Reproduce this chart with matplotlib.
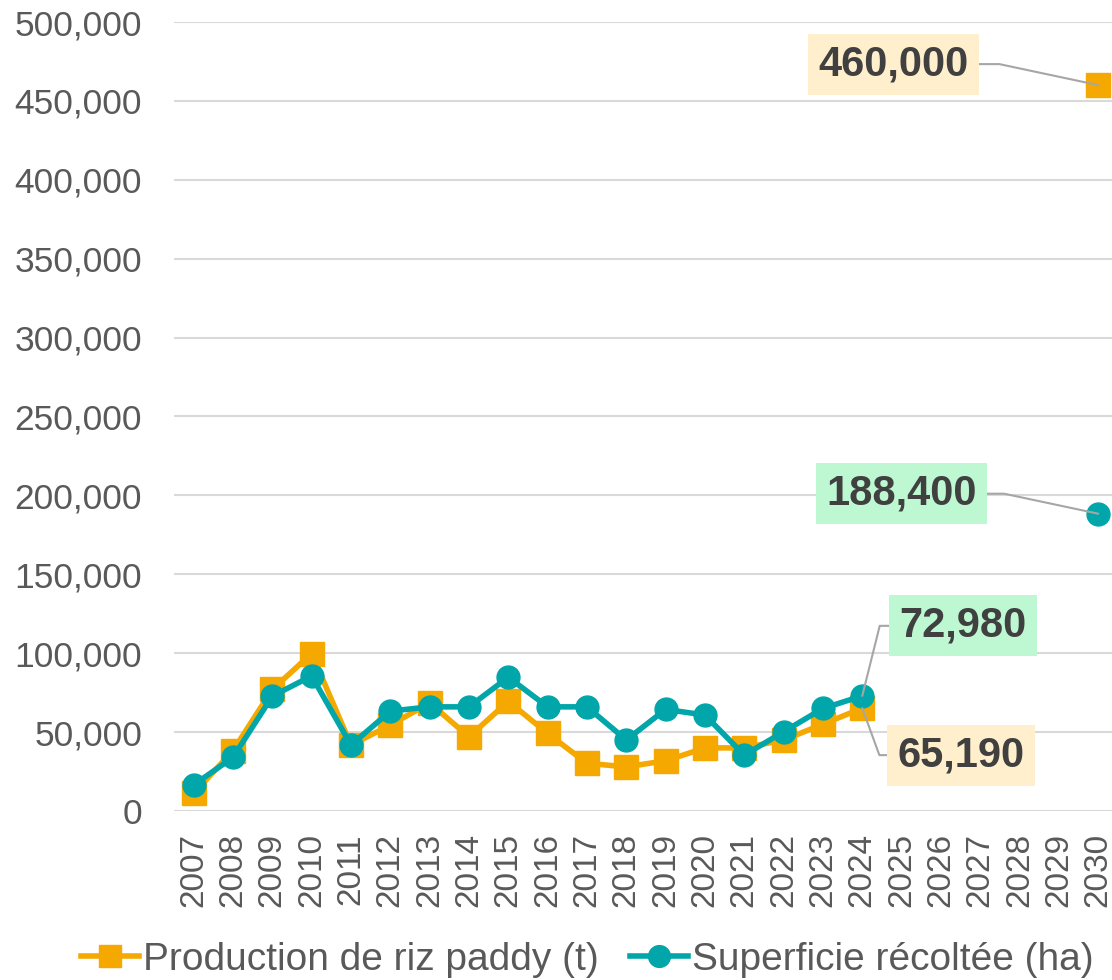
import matplotlib
matplotlib.use("Agg")
import matplotlib.pyplot as plt
import matplotlib.ticker as ticker
import numpy as np

years = [str(y) for y in range(2007, 2031)]
nan = np.nan
production = [11200, 38200, 77000, 99800, 41800, 54400, 68500, 47000, 69500, 49200,
              30200, 28000, 31800, 40000, 40000, 45000, 55000, 65190,
              nan, nan, nan, nan, nan, 460000]
superficie = [16500, 34000, 72800, 85600, 41800, 63300, 66000, 66000, 84800, 66000,
              66000, 45000, 64400, 60800, 35400, 50200, 65000, 72980,
              nan, nan, nan, nan, nan, 188400]

ORANGE = "#F5A800"
TEAL = "#00A6A9"
TXT = "#595959"

plt.rcParams['font.family'] = ['Liberation Sans', 'DejaVu Sans']

fig = plt.figure(figsize=(11.12, 9.8), dpi=100)
ax = fig.add_axes([174 / 1112, 1 - 811 / 980, (1112 - 174) / 1112, (811 - 22) / 980])

x = np.arange(len(years))
ax.plot(x, production, color=ORANGE, lw=4, marker='s', ms=17, mec=ORANGE,
        label="Production de riz paddy (t)", zorder=3)
ax.plot(x, superficie, color=TEAL, lw=4, marker='o', ms=16.5, mec=TEAL,
        label="Superficie récoltée (ha)", zorder=4)

ax.set_ylim(0, 500000)
ax.set_xlim(-0.5, len(years) - 0.5 - 0.15)
ax.yaxis.set_major_locator(ticker.MultipleLocator(50000))
ax.yaxis.set_major_formatter(ticker.FuncFormatter(lambda v, p: f"{int(v):,}"))
ax.set_xticks(x)
ax.set_xticklabels(years, rotation=90)
ax.tick_params(axis='y', length=0, pad=23, labelsize=25.5, labelcolor=TXT)
ax.tick_params(axis='x', length=0, pad=16, labelsize=24, labelcolor=TXT)
ax.grid(axis='y', color="#d9d9d9", lw=1.5)
ax.set_axisbelow(True)
for s in ax.spines.values():
    s.set_visible(False)

def label(idx, val, text, dx, dy, face, angB):
    ax.annotate(text, xy=(idx, val), xytext=(dx, dy), textcoords='offset pixels',
                ha='center', va='center', fontsize=30, fontweight='bold', color="#404040",
                bbox=dict(boxstyle='square,pad=0.25', fc=face, ec='none'),
                arrowprops=dict(arrowstyle='-', color="#a6a6a6", lw=1.5, shrinkA=0, shrinkB=0,
                                connectionstyle=f"angle,angleA=0,angleB={angB},rad=0"),
                zorder=6)

label(23, production[23], f"{production[23]:,}", -205, 21, "#FFEFCC", -12)
label(23, superficie[23], f"{superficie[23]:,}", -197, 20, "#BDF8D2", -12)
label(17, superficie[17], f"{superficie[17]:,}", 101, 70, "#BDF8D2", 76)
label(17, production[17], f"{production[17]:,}", 99, -47, "#FFEFCC", 110)

fig.legend(loc='center', bbox_to_anchor=(0.528, 1 - 960 / 980), ncol=2, frameon=False,
           fontsize=28, labelcolor=TXT, handlelength=1.5, handletextpad=0.1,
           columnspacing=0.8, markerscale=0.95)

fig.savefig("out.png", dpi=100)
